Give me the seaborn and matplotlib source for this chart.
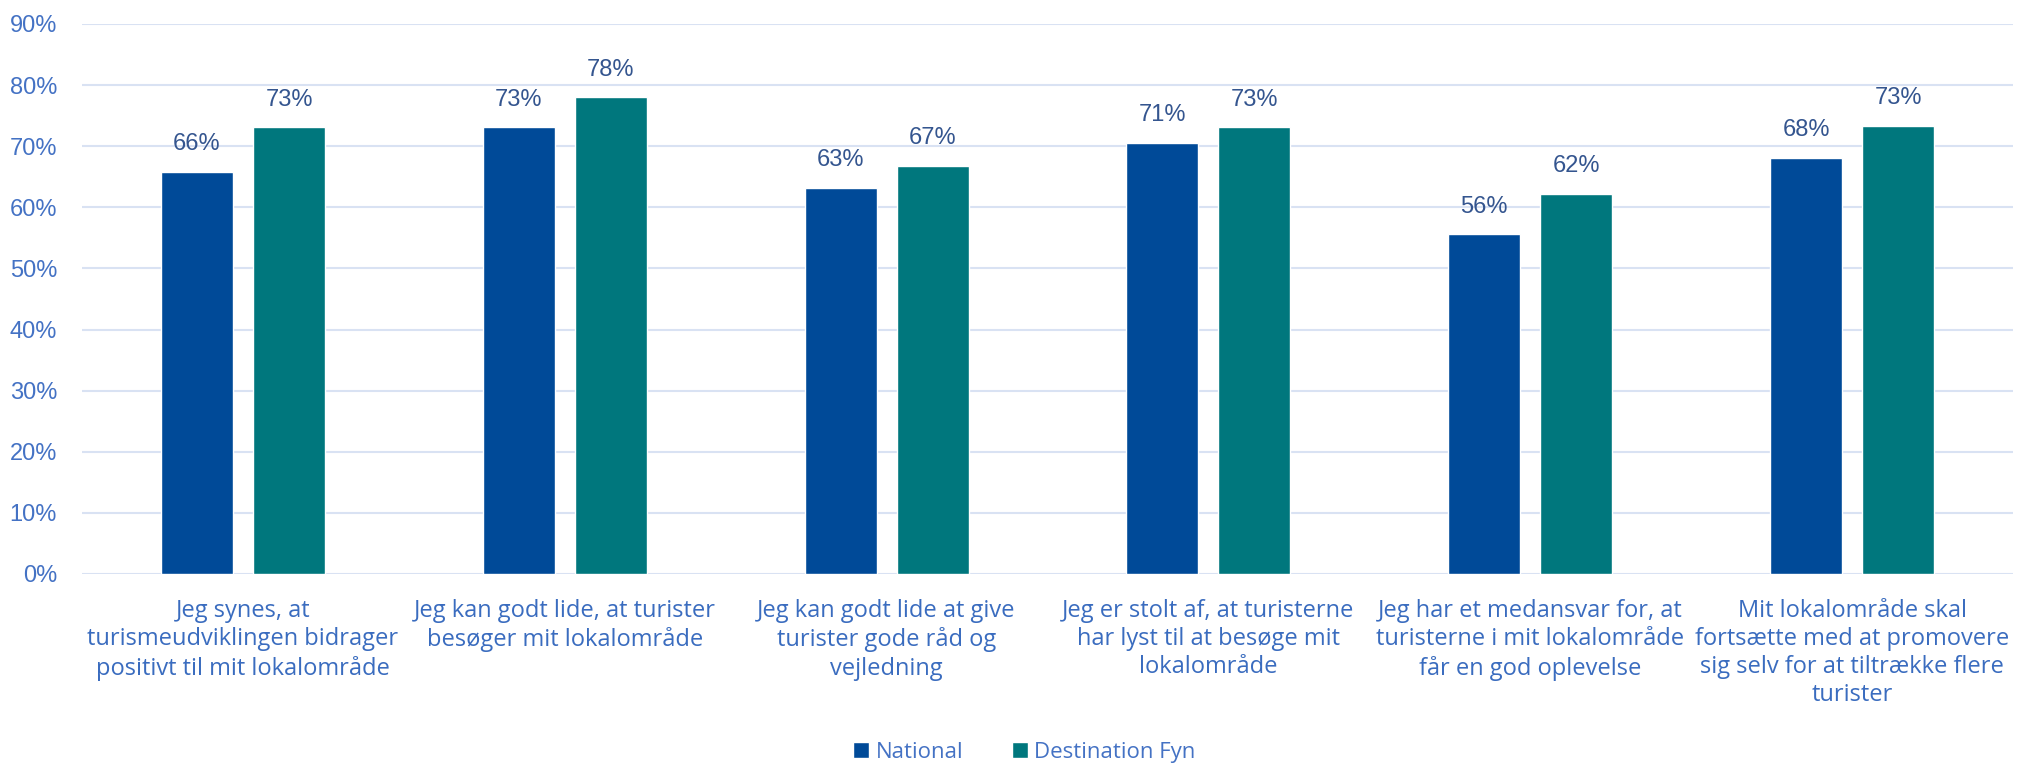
import matplotlib
matplotlib.use("Agg")
import matplotlib.pyplot as plt
import seaborn as sns
import pandas as pd
from matplotlib.ticker import PercentFormatter

categories = [
    "Jeg synes, at\nturismeudviklingen bidrager\npositivt til mit lokalområde",
    "Jeg kan godt lide, at turister\nbesøger mit lokalområde",
    "Jeg kan godt lide at give\nturister gode råd og\nvejledning",
    "Jeg er stolt af, at turisterne\nhar lyst til at besøge mit\nlokalområde",
    "Jeg har et medansvar for, at\nturisterne i mit lokalområde\nfår en god oplevelse",
    "Mit lokalområde skal\nfortsætte med at promovere\nsig selv for at tiltrække flere\nturister",
]
series_names = ["National", "Destination Fyn"]
national = [0.658, 0.731, 0.632, 0.706, 0.556, 0.681]
fyn = [0.731, 0.780, 0.668, 0.731, 0.622, 0.733]
yticks = [0.0, 0.1, 0.2, 0.3, 0.4, 0.5, 0.6, 0.7, 0.8, 0.9]

colors = ["#004A98", "#00777D"]

sns.set_theme(style="white")
plt.rcParams["font.family"] = ["Liberation Sans", "DejaVu Sans"]

df = pd.DataFrame({
    "category": categories * 2,
    "series": [series_names[0]] * len(categories) + [series_names[1]] * len(categories),
    "value": national + fyn,
})

fig = plt.figure(figsize=(20.17, 7.64), dpi=100)
ax = fig.add_axes([0.0407, 0.2487, 0.9573, 0.7199])

sns.barplot(data=df, x="category", y="value", hue="series", palette=colors,
            width=0.572, gap=0.217, ax=ax, legend=True, saturation=1)

ax.set_ylim(0, 0.9)
ax.set_yticks(yticks)
ax.yaxis.set_major_formatter(PercentFormatter(1.0, decimals=0))
ax.set_xlim(-0.5, len(categories) - 0.5)
ax.grid(axis="y", color="#D9E2F3", linewidth=1.5)
ax.set_axisbelow(True)
for s in ax.spines.values():
    s.set_visible(False)
ax.set_xlabel("")
ax.set_ylabel("")
ax.tick_params(axis="y", labelsize=17, labelcolor="#4472C4", length=0, pad=18)
ax.tick_params(axis="x", labelsize=17, labelcolor="#3A6CBF", length=0, pad=18)
for lbl in ax.get_xticklabels():
    lbl.set_family(["Open Sans", "DejaVu Sans"])
    lbl.set_linespacing(1.23)

for cont in ax.containers:
    ax.bar_label(cont, labels=[f"{v*100:.0f}%" for v in cont.datavalues],
                 padding=12, fontsize=17, color="#34558F")

handles, labels = ax.get_legend_handles_labels()
ax.legend_.remove()
leg = fig.legend(handles, labels, loc="center", bbox_to_anchor=(0.508, 0.015),
                 ncol=2, frameon=False, handlelength=0.7, handleheight=0.7,
                 handletextpad=0.3, columnspacing=2.2, labelcolor="#4472C4",
                 prop={"family": ["Open Sans", "DejaVu Sans"], "size": 16})

fig.savefig("out.png", dpi=100)
